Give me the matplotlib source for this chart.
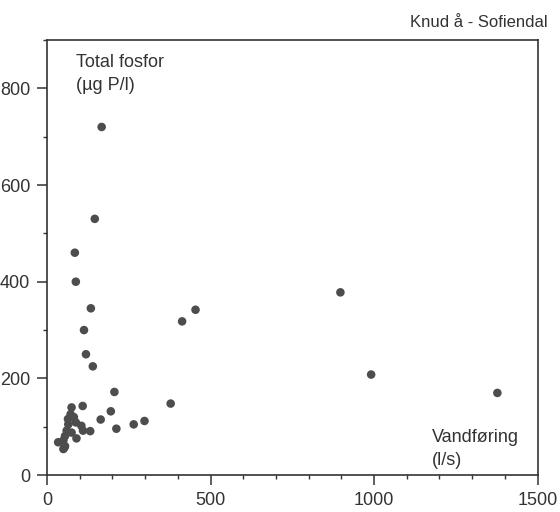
import numpy as np
import matplotlib.pyplot as plt
from matplotlib.ticker import MultipleLocator

plt.rcParams['font.family'] = ['Liberation Sans', 'DejaVu Sans']

# Vandføring (l/s) og total fosfor (µg P/l) for hver prøve
vandforing = [167, 146, 85, 88, 134, 113, 119, 140, 413, 454,
              897, 991, 1377, 206, 109, 75, 195, 164, 265, 212,
              132, 90, 34, 53, 378, 298, 72, 88, 105, 110,
              65, 60, 55, 75, 50, 55, 50, 82, 64]
fosfor = [720, 530, 460, 400, 345, 300, 250, 225, 318, 342,
          378, 208, 170, 172, 143, 140, 132, 115, 105, 96,
          91, 76, 68, 57, 148, 112, 126, 109, 102, 92,
          105, 92, 81, 88, 72, 60, 54, 120, 116]

fig = plt.figure(figsize=(5.6, 5.12), dpi=100)
ax = fig.add_axes([0.084, 0.072, 0.876, 0.850])

ax.scatter(vandforing, fosfor, s=38, color='#4d4d4d', edgecolors='none', zorder=3)

ax.set_xlim(0, 1500)
ax.set_ylim(0, 900)
ax.set_xticks([0, 500, 1000, 1500])
ax.set_yticks([0, 200, 400, 600, 800])
ax.xaxis.set_minor_locator(MultipleLocator(100))
ax.yaxis.set_minor_locator(MultipleLocator(100))
ax.tick_params(which='major', direction='out', length=7, width=1.1,
               labelsize=13, colors='#333333', pad=5)
ax.tick_params(which='minor', direction='out', length=3, width=1.0, colors='#333333')

for side in ['left', 'bottom', 'top', 'right']:
    ax.spines[side].set_linewidth(1.2)
    ax.spines[side].set_color('#333333')

ax.text(0.06, 0.968, 'Total fosfor\n(µg P/l)', transform=ax.transAxes,
        ha='left', va='top', fontsize=13, color='#333333', linespacing=1.45)
ax.text(0.785, 0.105, 'Vandføring\n(l/s)', transform=ax.transAxes,
        ha='left', va='top', fontsize=13, color='#333333', linespacing=1.45)
fig.text(0.978, 0.957, 'Knud å - Sofiendal', ha='right', va='center',
         fontsize=12, color='#333333')

fig.savefig('out.png', dpi=100)
